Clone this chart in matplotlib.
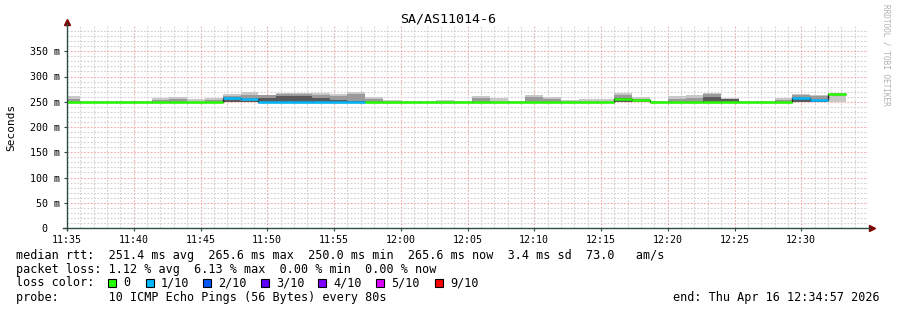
import matplotlib
matplotlib.use('Agg')
import matplotlib.pyplot as plt
from matplotlib.patches import Rectangle
import numpy as np

MONO = 'DejaVu Sans Mono'

# 80 s steps, minutes relative to 11:35
step_min = 80 / 60
first_start = -1 / 3

# per-step median rtt (ms) and lost pings (of 10)
median = [250, 250, 250, 250, 250, 250, 250, 250, 250, 257,
          256, 250, 250, 250, 250, 250, 250, 250, 250, 250,
          250, 250, 250, 250, 250, 250, 250, 250, 250, 250,
          250, 256, 253, 250, 250, 250, 250, 250, 250, 250,
          250, 258, 254, 265.6]
loss = [0, 0, 0, 0, 0, 0, 0, 0, 0, 1,
        1, 1, 1, 1, 1, 1, 1, 0, 0, 0,
        0, 0, 0, 0, 0, 0, 0, 0, 0, 0,
        0, 0, 0, 0, 0, 0, 0, 0, 0, 0,
        0, 1, 1, 0]
# smoke: outer (light), middle and inner (dark) band tops
smoke_hi = [261, 251, 251, 252, 252, 257, 260, 256, 257, 266,
            270, 264, 268, 268, 268, 265, 270, 260, 254, 252,
            251, 253, 252, 262, 258, 251, 264, 260, 254, 256,
            256, 268, 260, 251, 262, 264, 268, 258, 251, 251,
            258, 266, 264, 268]
smoke_mid = [256, 250, 250, 250, 250, 254, 256, 250, 254, 262,
             264, 264, 266, 266, 264, 262, 266, 256, 250, 250,
             250, 250, 250, 258, 250, 250, 260, 256, 250, 250,
             250, 264, 256, 250, 256, 258, 266, 256, 250, 250,
             254, 264, 262, 250]
smoke_dark = [250, 250, 250, 250, 250, 250, 250, 250, 250, 254,
              252, 258, 262, 262, 258, 254, 252, 250, 250, 250,
              250, 250, 250, 250, 250, 250, 250, 250, 250, 250,
              250, 258, 250, 250, 250, 250, 260, 255, 250, 250,
              250, 258, 254, 250]
min_rtt = 250.0

loss_labels = ['0', '1/10', '2/10', '3/10', '4/10', '5/10', '9/10']
loss_colors = ['#26ff00', '#00b8ff', '#0059ff', '#5e00ff', '#7e00ff', '#dd00ff', '#ff0000']

x_ticks = [0, 5, 10, 15, 20, 25, 30, 35, 40, 45, 50, 55]
x_labels = ['11:35', '11:40', '11:45', '11:50', '11:55', '12:00',
            '12:05', '12:10', '12:15', '12:20', '12:25', '12:30']
y_ticks = [0, 50, 100, 150, 200, 250, 300, 350]
y_labels = ['0  ', '50 m', '100 m', '150 m', '200 m', '250 m', '300 m', '350 m']

W, H = 897, 310
fig = plt.figure(figsize=(W / 100, H / 100), dpi=100)
fig.patch.set_facecolor('white')
ax = fig.add_axes([67 / W, 82 / H, 801 / W, 202 / H])
ax.set_xlim(0, 60)
ax.set_ylim(0, 400)

# grid
dash = (0, (1.5, 1.5))
for m in range(1, 60):
    major = m % 5 == 0
    ax.axvline(m, color='#f0a8a8' if major else '#d0d0d0', lw=0.8, ls=dash, zorder=0)
for v in range(10, 400, 10):
    major = v % 50 == 0
    ax.axhline(v, color='#f0a8a8' if major else '#d0d0d0', lw=0.8, ls=dash, zorder=0)

n = len(median)
edges = first_start + step_min * np.arange(n + 1)

ax.stairs(smoke_hi, edges, baseline=min_rtt, fill=True, color='#c8c8c8', zorder=2)
ax.stairs(smoke_mid, edges, baseline=min_rtt, fill=True, color='#9a9a9a', zorder=3)
ax.stairs(smoke_dark, edges, baseline=min_rtt, fill=True, color='#5a5a5a', zorder=4)

# median line, coloured by loss
ax.stairs(median, edges, baseline=None, color='#202020', lw=1.0, zorder=5)
seg_colors = [loss_colors[l] for l in loss]
ax.hlines(median, edges[:-1], edges[1:], colors=seg_colors, lw=1.8, zorder=6)

# axes
for s in ax.spines.values():
    s.set_visible(False)
axis_col = '#2C4D43'
ax.plot([0, 0], [-0.01, 1.015], transform=ax.transAxes, color=axis_col, lw=1, clip_on=False, zorder=7)
ax.plot([-0.005, 1.003], [0, 0], transform=ax.transAxes, color=axis_col, lw=1, clip_on=False, zorder=7)
ax.plot([0], [1.02], marker='^', ms=4, color='#7F0000', transform=ax.transAxes, clip_on=False)
ax.plot([1.005], [0], marker='>', ms=4, color='#7F0000', transform=ax.transAxes, clip_on=False)

ax.set_xticks(x_ticks)
ax.set_xticklabels(x_labels, family=MONO, fontsize=7.2)
ax.set_yticks(y_ticks)
ax.set_yticklabels(y_labels, family=MONO, fontsize=7.2)
ax.tick_params(axis='both', length=2, width=0.8, color=axis_col, pad=3)

fig.text(448 / W, 1 - 19 / H, 'SA/AS11014-6', family=MONO, fontsize=9.6, ha='center', va='center')
fig.text(11 / W, 1 - 127 / H, 'Seconds', family=MONO, fontsize=8, rotation=90, ha='center', va='center')
fig.text(886 / W, 1 - 4 / H, 'RRDTOOL / TOBI OETIKER', family=MONO, fontsize=5.6,
         rotation=270, ha='center', va='top', color='#b0b0b0')

# legend block
fs = 8.5
x0 = 16 / W
fig.text(x0, 1 - 255 / H,
         'median rtt:  251.4 ms avg  265.6 ms max  250.0 ms min  265.6 ms now  3.4 ms sd  73.0   am/s',
         family=MONO, fontsize=fs, va='center')
fig.text(x0, 1 - 269 / H, 'packet loss: 1.12 % avg  6.13 % max  0.00 % min  0.00 % now',
         family=MONO, fontsize=fs, va='center')
fig.text(x0, 1 - 283 / H, 'loss color:', family=MONO, fontsize=fs, va='center')
sq_x = [108, 146, 203, 261, 318, 376, 435]
for px, lab, col in zip(sq_x, loss_labels, loss_colors):
    fig.patches.append(Rectangle((px / W, 1 - 287 / H), 8 / W, 8 / H, transform=fig.transFigure,
                                 facecolor=col, edgecolor='black', lw=0.8))
    fig.text((px + 15) / W, 1 - 283 / H, lab, family=MONO, fontsize=fs, va='center')
fig.text(x0, 1 - 297 / H, 'probe:       10 ICMP Echo Pings (56 Bytes) every 80s',
         family=MONO, fontsize=fs, va='center')
fig.text(880 / W, 1 - 297 / H, 'end: Thu Apr 16 12:34:57 2026', family=MONO, fontsize=fs,
         va='center', ha='right')

fig.savefig('out.png', dpi=100)
